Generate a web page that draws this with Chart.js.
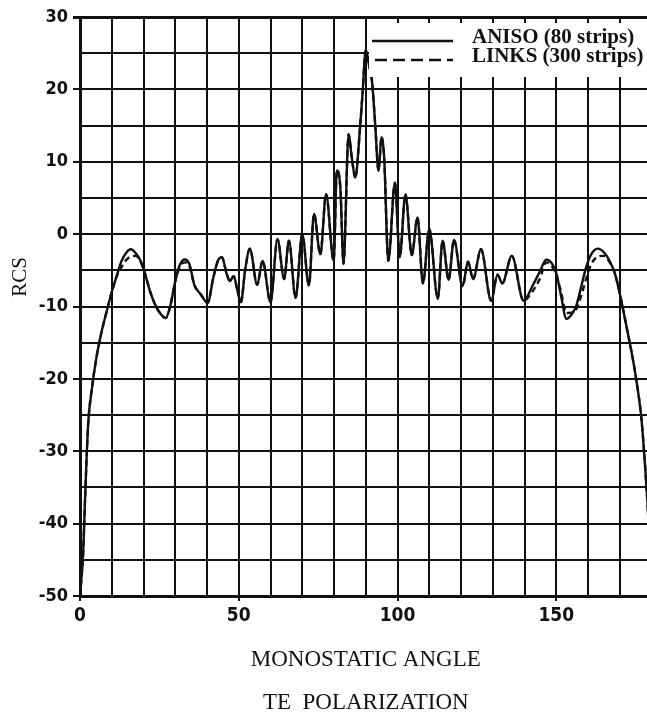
<!DOCTYPE html>
<html>
<head>
<meta charset="utf-8">
<title>RCS - TE polarization</title>
<script src="https://cdn.jsdelivr.net/npm/chart.js@4"></script>
<style>
  html, body { margin: 0; padding: 0; background: #fff; overflow: hidden; }
  canvas { display: block; }
</style>
</head>
<body>
<canvas id="grafico" width="665" height="718"></canvas>
<script>
// monostatic angle (deg)
const angles = [
  0, 1, 1.6, 2.1, 2.6, 3.7, 5.2, 6.8, 8.8, 10,
  11.4, 13, 14.5, 16, 17.5, 19, 20.5, 22, 23.5, 25,
  27, 28.5, 30, 31.5, 33, 34.5, 36, 38, 40.2, 42,
  43.5, 44.7, 46.2, 47.2, 48.4, 49.6, 50.7, 52, 53.5, 55.8,
  57.5, 60, 62.2, 64.3, 65.8, 67.9, 70, 72.1, 73.7, 75.7,
  77.5, 79.9, 80.9, 82, 83, 84.6, 85.6, 86.7, 88.2, 89,
  90, 91, 92, 93, 94, 95, 95.8, 97.1, 99.2, 100.7,
  102.5, 104.5, 106.3, 108, 110, 112.7, 114.2, 116.1, 117.8, 120.5,
  122.2, 123.8, 126.3, 129.5, 131.5, 133, 136, 139.7, 142.7, 144.8,
  146.9, 150, 151.5, 153.2, 155, 156.3, 158, 159.4, 161, 163.1,
  165, 166.7, 168.5, 170.4, 172, 174.1, 175.3, 176.8, 178.2, 179.2,
  180
];

// ANISO (80 strips) - solid line
const aniso = [
  -50, -44, -36.5, -30.7, -26, -21.5, -17, -13.5, -10, -8,
  -6, -3.8, -2.6, -2.1, -2.6, -3.6, -5.5, -7.8, -9.6, -10.8,
  -11.6, -9.8, -6.5, -4.2, -3.5, -4.2, -7, -8.3, -9.5, -6,
  -3.6, -3.2, -5.5, -6.5, -5.8, -7.8, -9.4, -5, -2, -7,
  -3.7, -9.4, -0.7, -6.2, -0.9, -8.8, 0, -7.1, 2.8, -2.8,
  5.5, -3.7, 8.8, 6.4, -4.1, 13.8, 10.6, 7.8, 14.7, 19.5,
  25.4, 23.4, 21, 15, 8.8, 13.4, 10.6, -3.7, 7.1, -3.2,
  5.5, -2.9, 2.3, -6.8, 0.7, -8.9, -0.9, -6.3, -0.8, -7.2,
  -3.8, -6.2, -2.1, -9.2, -5.6, -6.8, -3, -9.2, -7, -5.2,
  -3.5, -5.4, -8.5, -11.7, -11, -9.9, -7, -4.6, -2.8, -2,
  -2.5, -3.6, -5.5, -9, -12.5, -17.2, -20.4, -25.4, -33.5, -41,
  -50
];

// LINKS (300 strips) - dashed line
const links = [
  -50, -44, -36.5, -30.7, -26, -21.5, -17, -13.5, -10, -8,
  -6, -4.6, -3.6, -3.1, -3, -3.7, -5.5, -7.8, -9.6, -10.8,
  -11.6, -9.8, -6.5, -4.5, -3.9, -4.5, -7, -8.3, -9.5, -6,
  -3.6, -3.2, -5.5, -6.5, -5.8, -7.8, -9.4, -5, -2, -7,
  -3.7, -9.4, -0.7, -6.2, -0.9, -8.8, 0, -7.1, 2.8, -2.8,
  5.5, -3.7, 8.8, 6.4, -4.1, 13.8, 10.6, 7.8, 14.7, 19.5,
  25.4, 23.4, 21, 15, 8.8, 13.4, 10.6, -3.7, 7.1, -3.2,
  5.5, -2.9, 2.3, -6.8, 0.7, -8.9, -0.9, -6.3, -0.8, -7.2,
  -3.8, -6.2, -2.1, -9.2, -5.6, -6.8, -3, -9.2, -7.8, -6.2,
  -3.9, -5.6, -8, -10.9, -10.8, -10.4, -8.3, -6.2, -4.2, -3.1,
  -3, -3.8, -5.5, -9, -12.5, -17.2, -20.4, -25.4, -33.5, -41,
  -50
];

const seriesNames = ["ANISO (80 strips)", "LINKS (300 strips)"];
const yTicks = [30, 20, 10, 0, -10, -20, -30, -40, -50];
const xTicks = [0, 50, 100, 150];
const xTitle = ["MONOSTATIC ANGLE", "", "TE  POLARIZATION"];
const yTitle = "RCS";

const ink = "#111";
const numFont = "'Liberation Sans Narrow', 'DejaVu Sans Condensed', sans-serif";
const serifFont = "'Liberation Serif', 'DejaVu Serif', serif";

const toPoints = (ys) => angles.map((a, i) => ({ x: a, y: ys[i] }));

// legenda dentro il grafico, in alto a destra
const insideLegend = {
  id: "insideLegend",
  afterDatasetsDraw(chart) {
    const ctx = chart.ctx;
    const sets = chart.data.datasets;
    ctx.save();
    ctx.fillStyle = "#fff";
    ctx.fillRect(369, 23, 300, 54);
    ctx.strokeStyle = ink;
    ctx.lineWidth = 2.5;
    ctx.beginPath();
    ctx.moveTo(372, 41);
    ctx.lineTo(453, 41);
    ctx.stroke();
    ctx.setLineDash([12, 6]);
    ctx.beginPath();
    ctx.moveTo(375, 60);
    ctx.lineTo(453, 60);
    ctx.stroke();
    ctx.setLineDash([]);
    ctx.fillStyle = ink;
    ctx.font = "bold 21px " + serifFont;
    ctx.textBaseline = "middle";
    ctx.fillText(sets[0].label, 472, 38);
    ctx.fillText(sets[1].label, 472, 57);
    ctx.restore();
  }
};

// titolo asse y (RCS), un po' sopra il centro come nell'originale
const yAxisTitle = {
  id: "yAxisTitle",
  afterDraw(chart) {
    const ctx = chart.ctx;
    ctx.save();
    ctx.translate(20, 277);
    ctx.rotate(-Math.PI / 2);
    ctx.font = "21px " + serifFont;
    ctx.fillStyle = ink;
    ctx.textAlign = "center";
    ctx.textBaseline = "middle";
    ctx.fillText(yTitle, 0, 0);
    ctx.restore();
  }
};

const grafico = new Chart(document.getElementById("grafico"), {
  type: "line",
  data: {
    datasets: [
      {
        label: seriesNames[0],
        data: toPoints(aniso),
        borderColor: ink,
        borderWidth: 2.4,
        pointRadius: 0,
        cubicInterpolationMode: "monotone",
        fill: false,
      },
      {
        label: seriesNames[1],
        data: toPoints(links),
        borderColor: ink,
        borderWidth: 2.4,
        borderDash: [6, 4],
        pointRadius: 0,
        cubicInterpolationMode: "monotone",
        fill: false,
      },
    ],
  },
  options: {
    responsive: false,
    animation: false,
    layout: { padding: { top: 17, right: 13.5, left: 0, bottom: 0 } },
    plugins: {
      legend: { display: false },
      tooltip: { enabled: false },
    },
    scales: {
      x: {
        type: "linear",
        min: 0,
        max: 180,
        afterFit: (s) => { s.height = 122; },
        ticks: {
          stepSize: 10,
          autoSkip: false,
          maxRotation: 0,
          padding: 4,
          color: ink,
          font: { family: numFont, size: 19, weight: "bold" },
          callback: (v) => (xTicks.includes(v) ? String(v) : ""),
        },
        grid: {
          color: ink,
          lineWidth: 2,
          tickLength: 5,
          tickColor: (c) => (c.tick && xTicks.includes(c.tick.value) ? ink : "rgba(0,0,0,0)"),
        },
        border: { color: ink, width: 3 },
        title: {
          display: true,
          text: xTitle,
          color: ink,
          font: { family: serifFont, size: 23, lineHeight: "21.5px" },
          padding: { top: 0, bottom: 4 },
        },
      },
      y: {
        min: -50,
        max: 30,
        afterFit: (s) => { s.width = 80; },
        ticks: {
          stepSize: 5,
          autoSkip: false,
          padding: 5,
          color: ink,
          font: { family: numFont, size: 18, weight: "bold" },
          callback: (v) => (yTicks.includes(v) ? String(v) : ""),
        },
        grid: {
          color: ink,
          lineWidth: (c) => (c.tick && c.tick.value === 30 ? 3 : 2),
          tickLength: 7,
          tickColor: (c) => (c.tick && yTicks.includes(c.tick.value) ? ink : "rgba(0,0,0,0)"),
        },
        border: { color: ink, width: 3 },
      },
    },
  },
  plugins: [insideLegend, yAxisTitle],
});
</script>
</body>
</html>
